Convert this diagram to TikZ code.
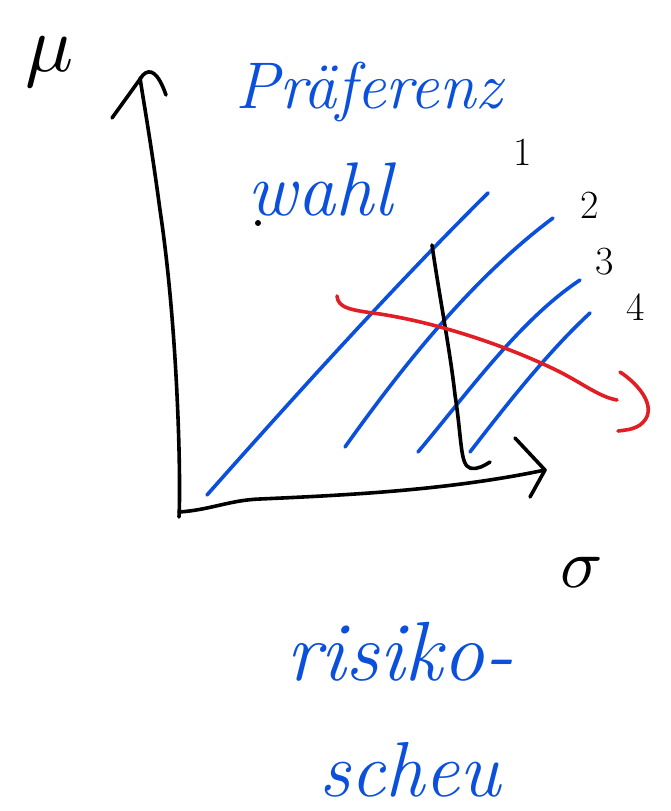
\documentclass[tikz,border=0pt]{standalone}
\usepackage{fontspec}
\usepackage{graphicx}
\begin{document}
\begin{tikzpicture}[x=1pt,y=-1pt,
  ink/.style={line width=3.6pt,line cap=round,line join=round},
  blueink/.style={ink,draw={rgb,255:red,10;green,80;blue,220}},
  redink/.style={ink,draw={rgb,255:red,225;green,30;blue,35}},
  bluetext/.style={text={rgb,255:red,10;green,80;blue,220},inner sep=0pt},
  numlabel/.style={font=\fontsize{40}{44}\selectfont,inner sep=0pt},
  axlabel/.style={inner sep=0pt}]
\useasboundingbox (0,0) rectangle (670,811);
\fill[white] (0,0) rectangle (670,811);
% axes
\coordinate (O) at (179,517);
\coordinate (ytop) at (140,78);
\coordinate (xend) at (545,470);
\draw[ink] (O) .. controls (181,480) and (178,330) .. (160,210) .. controls (152,150) and (145,110) .. (ytop);
\draw[ink] (112,118) -- (143,75) .. controls (150,68) and (158,72) .. (166,95);
\draw[ink] (179,512) .. controls (210,510) and (230,500) .. (260,499) .. controls (350,495) and (450,490) .. (xend);
\draw[ink] (515,438) -- (xend) -- (530,497);
\node[axlabel] (mu) at (50,62) {\scalebox{8}{$\mu$}};
\node[axlabel] (sigma) at (582,572) {\scalebox{7}{$\sigma$}};
% indifference lines
\coordinate (a1) at (207,495); \coordinate (b1) at (488,193);
\coordinate (a2) at (345,447); \coordinate (b2) at (553,218);
\coordinate (a3) at (418,452); \coordinate (b3) at (580,280);
\coordinate (a4) at (470,452); \coordinate (b4) at (590,313);
\draw[blueink] (a1) .. controls (300,390) and (400,280) .. (b1);
\draw[blueink] (a2) .. controls (400,370) and (470,280) .. (b2);
\draw[blueink] (a3) .. controls (470,390) and (520,320) .. (b3);
\draw[blueink] (a4) .. controls (510,400) and (550,350) .. (b4);
\node[numlabel] (n1) at (523,152) {1};
\node[numlabel] (n2) at (590,205) {2};
\node[numlabel] (n3) at (605,262) {3};
\node[numlabel] (n4) at (636,307) {4};
% black vertical line
\coordinate (v1) at (432,245);
\coordinate (v2) at (490,462);
\draw[ink] (v1) .. controls (440,300) and (450,350) .. (455,395) .. controls (462,440) and (460,465) .. (470,468) .. controls (478,470) and (485,465) .. (v2);
% red curve
\coordinate (r1) at (337,296);
\coordinate (r2) at (617,400);
\draw[redink] (r1) .. controls (338,308) and (350,310) .. (380,314) .. controls (450,325) and (520,352) .. (560,372) .. controls (585,385) and (600,397) .. (r2);
\draw[redink] (620,372) .. controls (640,385) and (660,410) .. (640,425) .. controls (632,430) and (625,430) .. (618,431);
% texts
\node[bluetext,font=\fontsize{66}{70}\selectfont\itshape] (t1) at (369,92) {Präferenz};
\node[bluetext,font=\fontsize{76}{80}\selectfont\itshape] (t2) at (320,190) {wahl};
\fill (258,223) circle (3pt);
\node[bluetext,font=\fontsize{84}{88}\selectfont\itshape] (t3) at (400,652) {risiko-};
\node[bluetext,font=\fontsize{78}{82}\selectfont\itshape] (t4) at (410,770) {scheu};
\end{tikzpicture}
\end{document}
